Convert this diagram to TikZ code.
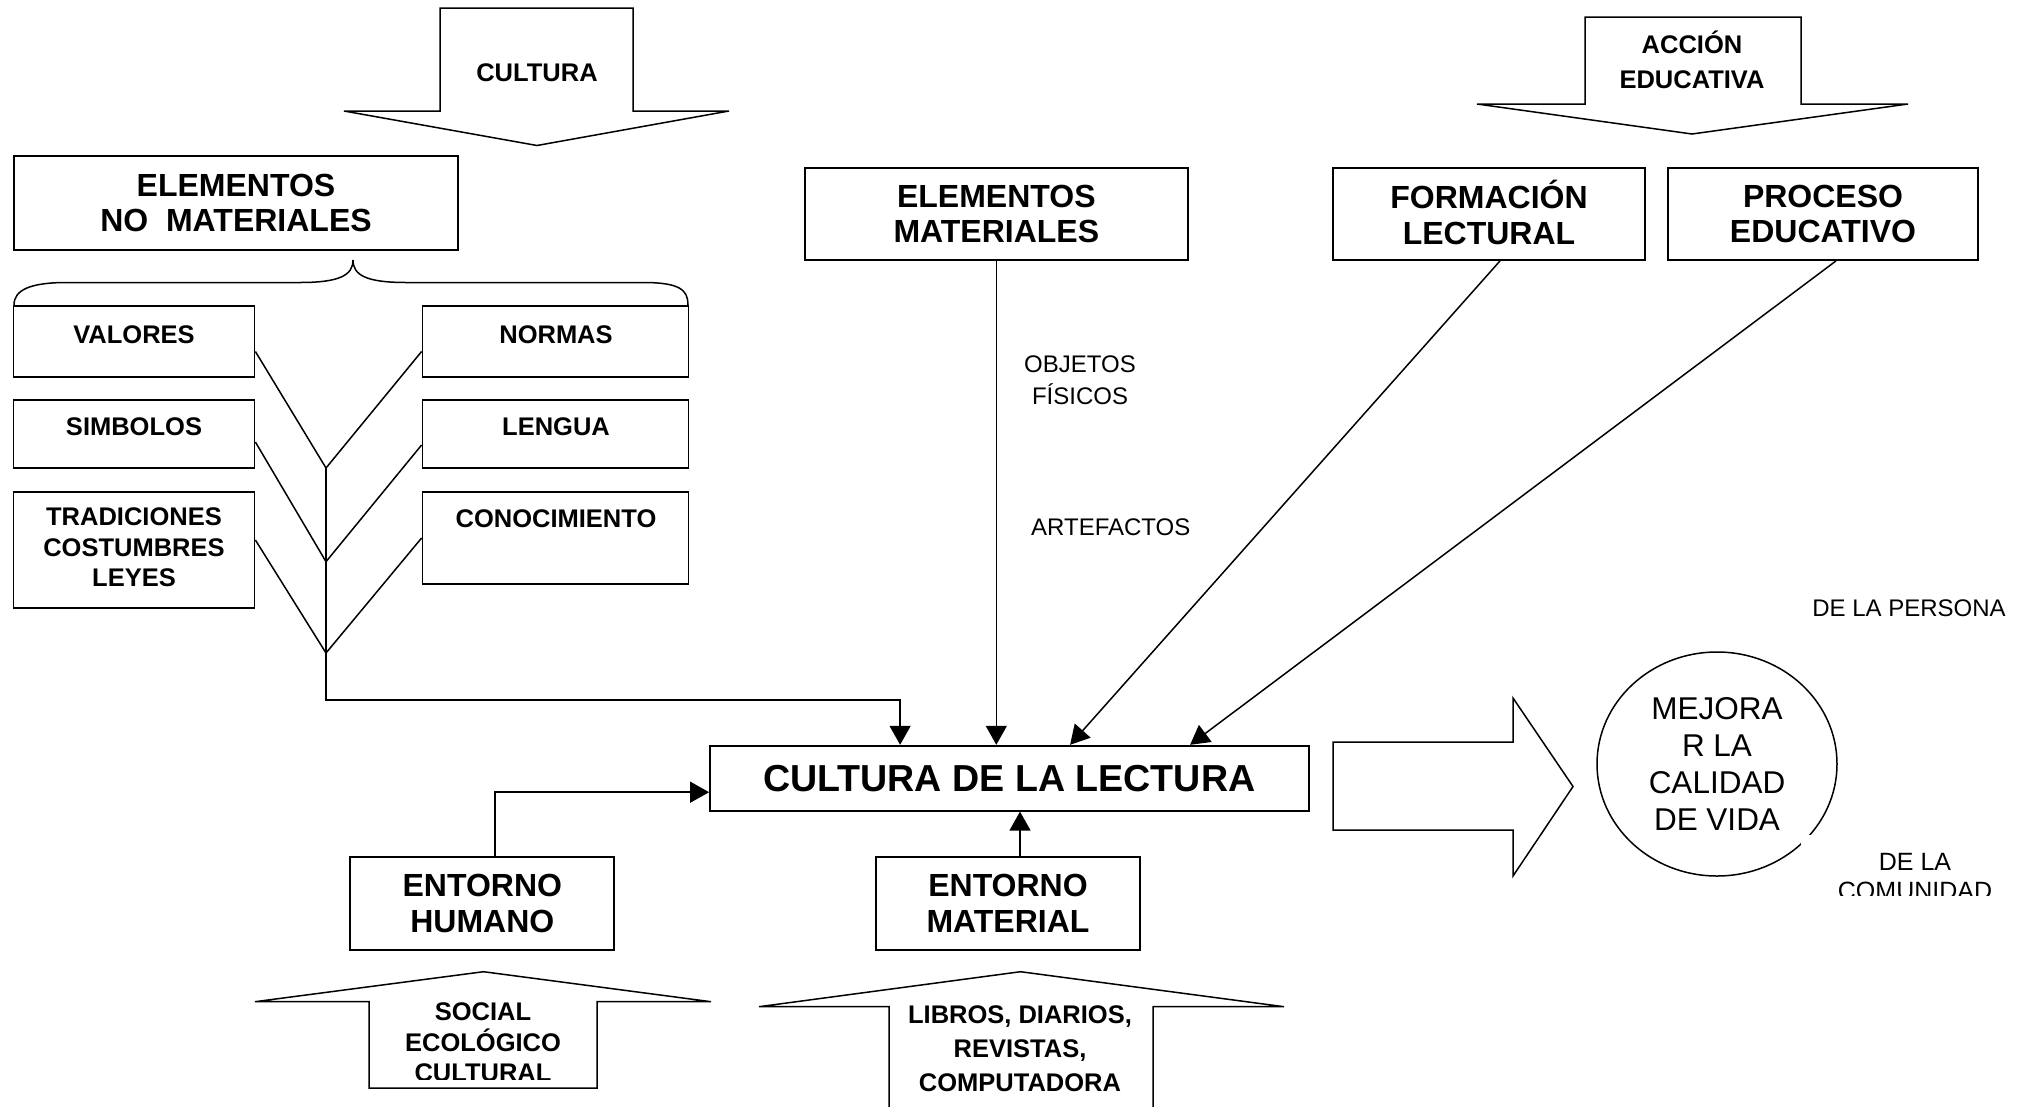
\documentclass[tikz,border=0pt]{standalone}
\usepackage{fontspec}
\setmainfont{Liberation Sans}
\usetikzlibrary{arrows.meta,calc,shapes.geometric}
\newcommand\myfs[2]{\fontsize{#1}{#2}\selectfont}
\begin{document}
\begin{tikzpicture}[x=1pt,y=-1pt,
  box/.style={draw, line width=1.8pt, inner sep=0pt},
  ln/.style={line width=1.5pt},
  blk/.style={draw, line width=1.5pt, line join=miter},
  arr/.style={ln, -{Triangle[width=21pt,length=19pt]}},
  big/.style={font={\bfseries\myfs{37.6}{42}}, align=center, inner sep=0pt},
  med/.style={font={\bfseries\myfs{32}{35.5}}, align=center, inner sep=0pt},
  sm/.style={font={\bfseries\myfs{25.5}{30.5}}, align=center, inner sep=0pt},
  reg/.style={font={\myfs{24}{31.7}}, align=center, inner sep=0pt},
  ell/.style={font={\myfs{31.5}{36.7}}, align=center, inner sep=0pt}]
\useasboundingbox (0,0) rectangle (2031,1106);
\fill[white] (0,0) rectangle (2031,1106);

% ---- top block arrows
\draw[blk] (440,8) -- (440,111) -- (344,111) -- (537,145.5) -- (729,111) -- (633,111) -- (633,8) -- cycle;
\node[sm] (cultura) at (537,72.7) {CULTURA};
\draw[blk] (1585,17) -- (1585,104) -- (1477,104) -- (1692,134) -- (1908,104) -- (1801,104) -- (1801,17) -- cycle;
\node[sm, font={\bfseries\myfs{25.5}{35}}] (accion) at (1692,60) {ACCIÓN\\EDUCATIVA};

% ---- non-material elements
\node[box, med, minimum width=444pt, minimum height=94pt] (enm) at (236,203) {ELEMENTOS\\NO\ \ MATERIALES};
\draw[ln] (14,305) .. controls (14,290) and (30,282.5) .. (67,282.5) -- (300,282.5)
  .. controls (340,282.5) and (353,275) .. (353,260)
  .. controls (353,275) and (366,282.5) .. (406,282.5) -- (643,282.5)
  .. controls (680,282.5) and (688,290) .. (688,305);

\node[box, minimum width=241pt, minimum height=71pt] (valores) at (134,341.5) {};
\node[box, minimum width=241pt, minimum height=68pt] (simbolos) at (134,434) {};
\node[box, minimum width=241pt, minimum height=116pt] (tradiciones) at (134,550) {};
\node[box, minimum width=266pt, minimum height=71pt] (normas) at (555.5,341.5) {};
\node[box, minimum width=266pt, minimum height=68pt] (lengua) at (555.5,434) {};
\node[box, minimum width=266pt, minimum height=92pt] (conoc) at (555.5,538) {};
\node[sm] (tvalores) at (134,335) {VALORES};
\node[sm] (tsimbolos) at (134,427) {SIMBOLOS};
\node[sm] (ttrad) at (134,547.5) {TRADICIONES\\COSTUMBRES\\LEYES};
\node[sm] (tnormas) at (556,335) {NORMAS};
\node[sm] (tlengua) at (556,427) {LENGUA};
\node[sm] (tconoc) at (556,519) {CONOCIMIENTO};

\coordinate (j1) at (326,468);
\coordinate (j2) at (326,561.7);
\coordinate (j3) at (326,653);
\coordinate (trunk) at (326,700);
\draw[ln] ($(valores.east)+(0,10)$) -- (j1) -- ($(normas.west)+(0,10)$);
\draw[ln] ($(simbolos.east)+(0,8)$) -- (j2) -- ($(lengua.west)+(0,11)$);
\draw[ln] ($(tradiciones.east)+(0,-10)$) -- (j3) -- (conoc.west);

% ---- central box
\node[box, big, minimum width=598.6pt, minimum height=65pt] (cdl) at (1009.3,778.2) {CULTURA DE LA LECTURA};
\coordinate (cdlin1) at ($(cdl.north west)+(191,0)$);
\draw[arr] (j1) -- (trunk) -| (cdlin1);

% ---- material elements
\node[box, med, minimum width=383.4pt, minimum height=92pt] (em) at (996.3,214) {ELEMENTOS\\MATERIALES};
\draw[arr] (em.south) -- (em.south |- cdl.north);
\node[reg] (objetos) at (1080,380) {OBJETOS\\FÍSICOS};
\node[reg, anchor=west] (artef) at (1031,527) {ARTEFACTOS};

% ---- education
\node[box, minimum width=312pt, minimum height=92pt] (form) at (1489,214) {};
\node[med] (tform) at (1489,212.5) {FORMACIÓN\\LECTURAL};
\node[box, med, minimum width=310pt, minimum height=92pt] (proc) at (1823,214) {PROCESO\\EDUCATIVO};
\draw[arr] ($(form.south)+(11,0)$) -- ($(cdl.north west)+(361,0)$);
\draw[arr] ($(proc.south)+(13,0)$) -- ($(cdl.north west)+(481,0)$);

% ---- bottom
\node[box, med, minimum width=264pt, minimum height=93pt] (eh) at (482.3,903.3) {ENTORNO\\HUMANO};
\node[box, med, minimum width=264pt, minimum height=93pt] (emat) at (1008,903.3) {ENTORNO\\MATERIAL};
\coordinate (ehout) at ($(eh.north)+(12.5,0)$);
\draw[arr] (ehout) |- ($(cdl.west)+(0,14)$);
\coordinate (ematout) at ($(emat.north)+(12,0)$);
\draw[arr] (ematout) -- (ematout |- cdl.south);

\draw[blk] (369,1088) -- (369,1001.7) -- (255,1001.7) -- (483.5,971.7) -- (711,1001.7) -- (597,1001.7) -- (597,1088) -- cycle;
\begin{scope}
\clip (370,985) rectangle (596,1079);
\node[sm, font={\bfseries\myfs{25.5}{30.5}}] (social) at (483,1042.5) {SOCIAL\\ECOLÓGICO\\CULTURAL};
\end{scope}
\draw[blk] (889,1115) -- (889,1006.7) -- (759,1006.7) -- (1020.5,971.7) -- (1284,1006.7) -- (1153,1006.7) -- (1153,1115);
\node[sm, font={\bfseries\myfs{25.5}{34}}] (libros) at (1020,1049) {LIBROS, DIARIOS,\\REVISTAS,\\COMPUTADORA};

% ---- result
\draw[blk] (1333,742) -- (1513,742) -- (1513,698) -- (1573,786.5) -- (1513,876) -- (1513,830) -- (1333,830) -- cycle;
\node[ellipse, draw, line width=1.5pt, ell, minimum width=240pt, minimum height=224pt] (mejora) at (1717,764) {MEJORA\\R LA\\CALIDAD\\DE VIDA};
\node[reg] (persona) at (1909,608) {DE LA PERSONA};
\fill[white] (1801,835) rectangle (2031,895);
\begin{scope}
\clip (1801,835) rectangle (2031,895);
\node[reg, font={\myfs{25}{29}}] (comunidad) at (1915,876.5) {DE LA\\COMUNIDAD};
\end{scope}
\end{tikzpicture}
\end{document}
